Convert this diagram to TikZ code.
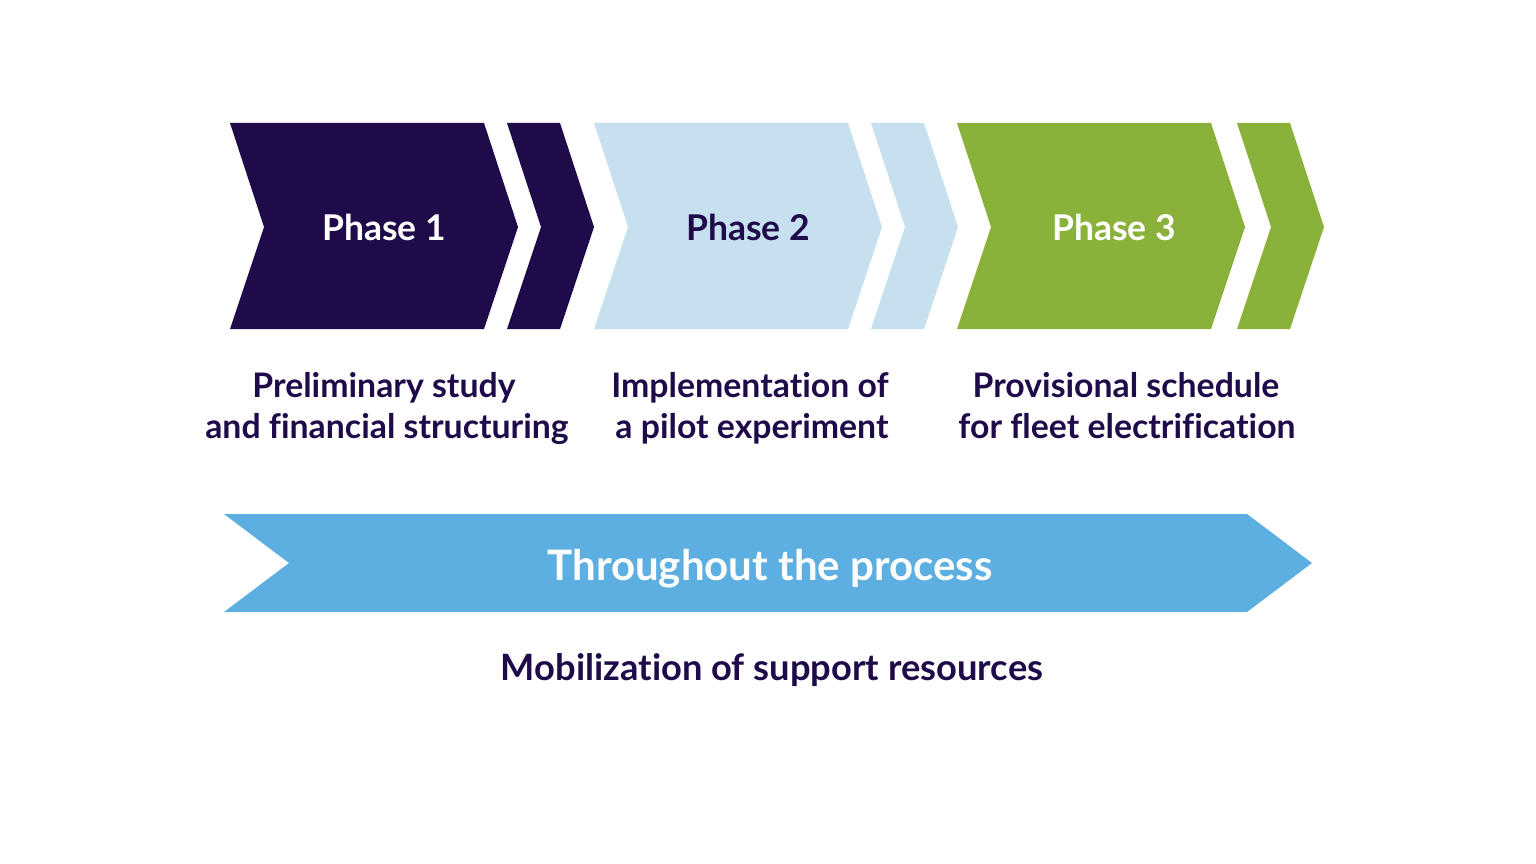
\documentclass[tikz,border=0pt]{standalone}
\usepackage{fontspec}
\setmainfont{Lato}[Ligatures=NoCommon]
\definecolor{navy}{HTML}{1F0A4A}
\definecolor{lightblue}{HTML}{C6E0F0}
\definecolor{leaf}{HTML}{8AB23A}
\definecolor{sky}{HTML}{5DAFE2}
\begin{document}
\begin{tikzpicture}[x=1pt,y=-1pt,
  phasetext/.style={font=\fontsize{35.5}{35.5}\selectfont\bfseries, anchor=base, inner sep=0pt},
  desctext/.style={font=\fontsize{33.8}{33.8}\selectfont\bfseries, text=navy, anchor=base, inner sep=0pt},
]
\useasboundingbox (0,0) rectangle (1536,864);
% chevrons: main + small
\foreach \dx/\sx/\col in {0/0/navy, 364/364/lightblue, 727/730/leaf}{
  \fill[\col] (230+\dx,123) -- (484+\dx,123) -- (518+\dx,227) -- (484+\dx,329) -- (230+\dx,329) -- (264+\dx,227) -- cycle;
  \fill[\col] (507+\sx,123) -- (560+\sx,123) -- (594+\sx,227) -- (560+\sx,329) -- (507+\sx,329) -- (541+\sx,227) -- cycle;
}
\node[phasetext, text=white] (p1) at (384,240) {Phase 1};
\node[phasetext, text=navy] (p2) at (748,240) {Phase 2};
\node[phasetext, text=white] (p3) at (1114,240) {Phase 3};
\node[desctext] (d1a) at (384,397) {Preliminary study};
\node[desctext] (d1b) at (387,438) {and financial structuring};
\node[desctext] (d2a) at (750,397) {Implementation of};
\node[desctext] (d2b) at (752,438) {a pilot experiment};
\node[desctext] (d3a) at (1126,397) {Provisional schedule};
\node[desctext] (d3b) at (1127,438) {for fleet electrification};
% bottom arrow
\fill[sky] (224,514) -- (1247,514) -- (1312,563) -- (1247,612) -- (224,612) -- (289,563) -- cycle;
\node[font=\fontsize{42}{42}\selectfont\bfseries, text=white, anchor=base, inner sep=0pt] (thr) at (770,580) {Throughout the process};
\node[font=\fontsize{36.3}{36.3}\selectfont\bfseries, text=navy, anchor=base, inner sep=0pt] (mob) at (772,680) {Mobilization of support resources};
\end{tikzpicture}
\end{document}
